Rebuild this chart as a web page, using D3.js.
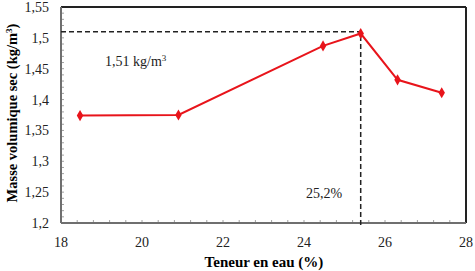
<!DOCTYPE html>
<html>
<head>
<meta charset="utf-8">
<script src="https://cdn.jsdelivr.net/npm/d3@7"></script>
<style>
  body { margin: 0; background: #fff; }
  text { font-family: "Liberation Serif", "Times New Roman", serif; }
</style>
</head>
<body>
<div id="chart"></div>
<script>
// water content (%) and dry density (kg/m3)
const teneur = [18.47, 20.9, 24.47, 25.4, 26.31, 27.4];
const masse = [1.374, 1.375, 1.487, 1.507, 1.432, 1.411];
const xTicks = [18, 20, 22, 24, 26, 28];
const yTicks = [1.2, 1.25, 1.3, 1.35, 1.4, 1.45, 1.5, 1.55];
const optX = 25.4;
const optY = 1.51;

const width = 475, height = 271;
const margin = { top: 7, right: 9, bottom: 48, left: 61 };

const svg = d3.select('#chart').append('svg')
    .attr('width', width)
    .attr('height', height);

const x = d3.scaleLinear().domain([18, 28]).range([margin.left, width - margin.right]);
const y = d3.scaleLinear().domain([1.2, 1.55]).range([height - margin.bottom, margin.top]);

const fmt = d => String(d).replace('.', ',');

// minor ticks
const xMinor = d3.range(18, 28.001, 0.4);
const yMinor = d3.range(1.2, 1.5501, 0.01);
svg.append('g').selectAll('line').data(xMinor).enter().append('line')
    .attr('x1', d => x(d)).attr('x2', d => x(d))
    .attr('y1', y(1.2)).attr('y2', y(1.2) - 3)
    .attr('stroke', '#a0a0a0').attr('stroke-width', 1);
svg.append('g').selectAll('line').data(yMinor).enter().append('line')
    .attr('y1', d => y(d)).attr('y2', d => y(d))
    .attr('x1', x(18)).attr('x2', x(18) + 3)
    .attr('stroke', '#a0a0a0').attr('stroke-width', 1);

// frame: top/right black, left/bottom gray axes
svg.append('line').attr('x1', x(18)).attr('x2', x(28)).attr('y1', y(1.55)).attr('y2', y(1.55))
    .attr('stroke', '#222').attr('stroke-width', 2);
svg.append('line').attr('x1', x(28)).attr('x2', x(28)).attr('y1', y(1.55)).attr('y2', y(1.2))
    .attr('stroke', '#222').attr('stroke-width', 2);
svg.append('line').attr('x1', x(18)).attr('x2', x(18)).attr('y1', y(1.55)).attr('y2', y(1.2))
    .attr('stroke', '#6f6f6f').attr('stroke-width', 2);
svg.append('line').attr('x1', x(18)).attr('x2', x(28)).attr('y1', y(1.2)).attr('y2', y(1.2))
    .attr('stroke', '#6f6f6f').attr('stroke-width', 2);

// tick labels
svg.append('g').selectAll('text').data(xTicks).enter().append('text')
    .attr('x', d => x(d)).attr('y', y(1.2) + 24)
    .attr('text-anchor', 'middle')
    .attr('font-size', 14)
    .attr('fill', '#222')
    .text(d => d);
svg.append('g').selectAll('text').data(yTicks).enter().append('text')
    .attr('x', x(18) - 12).attr('y', d => y(d) + 5)
    .attr('text-anchor', 'end')
    .attr('font-size', 14)
    .attr('fill', '#222')
    .text(d => fmt(d));

// optimum dashed lines
svg.append('path')
    .attr('d', `M${x(18)},${y(optY)}H${x(optX)}V${y(1.2) + 5}`)
    .attr('fill', 'none')
    .attr('stroke', '#222')
    .attr('stroke-width', 1.5)
    .attr('stroke-dasharray', '5,3');

// series
const pts = teneur.map((t, i) => [t, masse[i]]);
const line = d3.line().x(d => x(d[0])).y(d => y(d[1]));
svg.append('path').datum(pts)
    .attr('d', line)
    .attr('fill', 'none')
    .attr('stroke', '#e8141b')
    .attr('stroke-width', 2);
svg.append('g').selectAll('path').data(pts).enter().append('path')
    .attr('d', d3.symbol(d3.symbolDiamond, 36))
    .attr('transform', d => `translate(${x(d[0])},${y(d[1])})`)
    .attr('fill', '#e8141b');

// annotations
const ann = svg.append('text')
    .attr('x', 105).attr('y', 66)
    .attr('font-size', 14)
    .attr('fill', '#222')
    .text('1,51 kg/m');
ann.append('tspan').attr('dy', -5).attr('font-size', 9).text('3');

svg.append('text')
    .attr('x', 306).attr('y', 198)
    .attr('font-family', 'Lato, "Open Sans", sans-serif')
    .attr('font-size', 14)
    .attr('fill', '#222')
    .text('25,2%');

// axis titles
svg.append('text')
    .attr('x', 264).attr('y', 267)
    .attr('text-anchor', 'middle')
    .attr('font-size', 15)
    .attr('font-weight', 'bold')
    .text('Teneur en eau (%)');

const yl = svg.append('text')
    .attr('transform', `translate(17,${(y(1.2) + y(1.55)) / 2 - 2}) rotate(-90)`)
    .attr('text-anchor', 'middle')
    .attr('font-size', 14.5)
    .attr('font-weight', 'bold')
    .text('Masse volumique sec (kg/m');
yl.append('tspan').attr('dy', -5).attr('font-size', 9).text('3');
yl.append('tspan').attr('dy', 5).text(')');
</script>
</body>
</html>
